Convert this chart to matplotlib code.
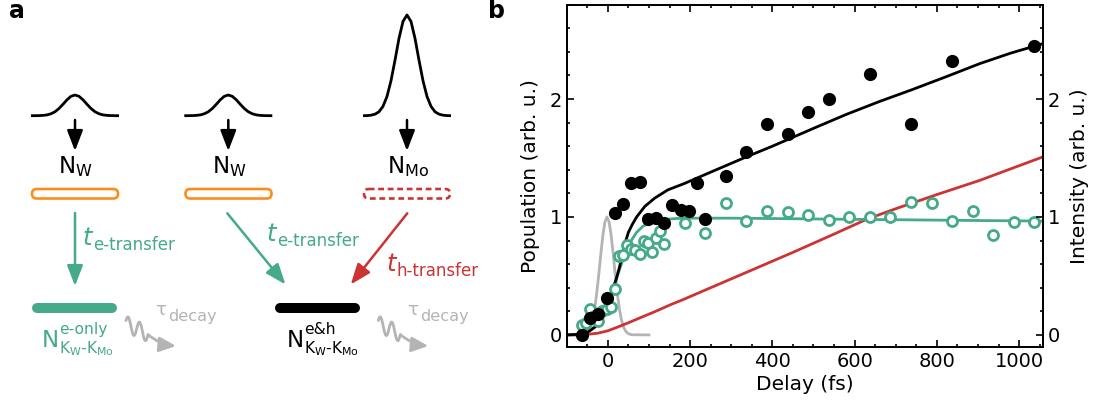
import numpy as np
import matplotlib
matplotlib.use("Agg")
import matplotlib.pyplot as plt
from matplotlib.patches import FancyBboxPatch, FancyArrowPatch
from matplotlib.ticker import MultipleLocator

GREEN = "#44aa88"
ORANGE = "#ff8c1a"
RED = "#cc3333"
GREY = "#b4b4b4"

# ---- panel b data ----
eh_delay = [-63, -44, -24, -3, 17, 37, 57, 77, 97, 117, 137, 157, 177, 197,
            217, 237, 287, 337, 387, 437, 487, 537, 637, 737, 837, 1037]
eh_pop = [0.0, 0.14, 0.18, 0.31, 1.03, 1.11, 1.29, 1.30, 0.98, 0.99, 0.95,
          1.10, 1.06, 1.05, 1.29, 0.98, 1.35, 1.55, 1.79, 1.70, 1.89, 2.00,
          2.21, 1.79, 2.32, 2.45]

eonly_delay = [-63, -53, -43, -33, -23, -13, -3, 7, 17, 27, 37, 47, 57, 67,
               77, 87, 97, 107, 117, 127, 137, 187, 237, 287, 337, 387, 437,
               487, 537, 587, 637, 687, 737, 787, 837, 887, 937, 987, 1037]
eonly_pop = [0.08, 0.10, 0.22, 0.16, 0.12, 0.20, 0.22, 0.24, 0.39, 0.67,
             0.68, 0.76, 0.73, 0.72, 0.69, 0.80, 0.78, 0.70, 0.82, 0.88,
             0.77, 0.95, 0.86, 1.12, 0.97, 1.05, 1.04, 1.02, 0.975, 1.00,
             1.00, 1.00, 1.13, 1.115, 0.97, 1.05, 0.85, 0.96, 0.96]

fit_eh_t = [-100, -70, -50, -30, -15, -3, 5, 12, 20, 28, 35, 42, 50, 60, 70,
            90, 114, 146, 187, 250, 337, 400, 499, 580, 661, 740, 823, 904,
            980, 1058]
fit_eh_n = [0.0, 0.005, 0.02, 0.07, 0.15, 0.25, 0.32, 0.39, 0.47, 0.57, 0.68,
            0.78, 0.87, 0.94, 1.0, 1.09, 1.16, 1.23, 1.285, 1.38, 1.51, 1.60,
            1.75, 1.87, 1.98, 2.08, 2.19, 2.30, 2.39, 2.47]

fit_e_t = [-100, -70, -50, -30, -15, -3, 5, 12, 20, 28, 36, 45, 57, 70, 85,
           100, 120, 140, 180, 300, 600, 900, 1058]
fit_e_n = [0.0, 0.005, 0.02, 0.07, 0.15, 0.24, 0.31, 0.38, 0.46, 0.55, 0.63,
           0.71, 0.80, 0.87, 0.92, 0.95, 0.97, 0.98, 0.99, 0.99, 0.98, 0.97,
           0.965]

fit_h_t = [-100, -70, -50, -25, 0, 25, 50, 75, 115, 155, 180, 250, 350, 450,
           550, 629, 700, 800, 904, 1058]
fit_h_n = [0.0, 0.0, 0.005, 0.014, 0.035, 0.068, 0.103, 0.14, 0.198, 0.26,
           0.295, 0.40, 0.55, 0.70, 0.855, 0.98, 1.07, 1.19, 1.31, 1.51]

pulse_t = [-100, -67, -62, -57, -52, -47, -42, -37, -32, -27, -22, -17, -12,
           -7, -2, 3, 8, 13, 18, 23, 28, 33, 38, 43, 48, 53, 58, 63, 100]
pulse_i = [0.0, 0.001, 0.002, 0.006, 0.015, 0.034, 0.069, 0.129, 0.222,
           0.352, 0.513, 0.687, 0.846, 0.959, 1.0, 0.959, 0.846, 0.687,
           0.513, 0.352, 0.222, 0.129, 0.069, 0.034, 0.015, 0.006, 0.002,
           0.001, 0.0]

# ---- panel a: pump pulse sketch profile ----
sketch_off = [-44, -40, -36, -32, -28, -24, -20, -16, -12, -8, -4, 0,
              4, 8, 12, 16, 20, 24, 28, 32, 36, 40, 44]
sketch_val = [0.0, 0.001, 0.005, 0.015, 0.039, 0.093, 0.191, 0.347, 0.551,
              0.768, 0.936, 1.0, 0.936, 0.768, 0.551, 0.347, 0.191, 0.093,
              0.039, 0.015, 0.005, 0.001, 0.0]
sketch_x = [75, 228.3, 407]
sketch_h = [20.7, 20.7, 100.7]

fig = plt.figure(figsize=(11.01, 4.11), dpi=100)

# panel a drawn in pixel coordinates
ax_a = fig.add_axes([0, 0, 1, 1])
ax_a.set_xlim(0, 1101)
ax_a.set_ylim(411, 0)
ax_a.axis("off")

base = 115.7
for cx, h in zip(sketch_x, sketch_h):
    ax_a.plot([cx + o for o in sketch_off], [base - h * v for v in sketch_val],
              color="k", lw=2, solid_capstyle="butt")


def arrow(p0, p1, color, lw=1.8, hl=1.25, hw=0.48):
    ax_a.add_patch(FancyArrowPatch(
        p0, p1, arrowstyle=f"-|>,head_length={hl},head_width={hw}",
        mutation_scale=10, color=color, lw=lw, shrinkA=0, shrinkB=0))


for cx in sketch_x:
    arrow((cx, 120), (cx, 151), "k")

n_kw = dict(fontsize=16.5, ha="center", va="baseline")
ax_a.text(75.3, 173.3, r"N$_\mathrm{W}$", **n_kw)
ax_a.text(229.7, 173.3, r"N$_\mathrm{W}$", **n_kw)
ax_a.text(408, 173.3, r"N$_\mathrm{Mo}$", **n_kw)

for x0, col, ls in [(32, ORANGE, "-"), (185.5, ORANGE, "-"), (364, RED, (0, (2.2, 1.4)))]:
    ax_a.add_patch(FancyBboxPatch((x0, 189), 86, 9.5,
                                  boxstyle="round,pad=0,rounding_size=4.7",
                                  fc="white", ec=col, lw=1.9, ls=ls))

arrow((75, 213), (75, 286), GREEN)
arrow((227.3, 213.3), (285.5, 284.5), GREEN)
arrow((407.3, 213.3), (350.7, 284.5), RED)


def rate(x, y, sub, color):
    ax_a.text(x, y, "t", fontsize=17.5, style="italic", color=color,
              ha="left", va="baseline")
    ax_a.text(x + 10, y + 5, sub, fontsize=12, color=color,
              ha="left", va="baseline")


rate(82.7, 245, "e-transfer", GREEN)
rate(266.7, 240.7, "e-transfer", GREEN)
rate(386.7, 270.7, "h-transfer", RED)

ax_a.plot([37, 112], [307.7, 307.7], color=GREEN, lw=7.2, solid_capstyle="round")
ax_a.plot([280, 355], [307.7, 307.7], color="k", lw=7.2, solid_capstyle="round")


def level_label(x, sup, color):
    ax_a.text(x, 346.7, "N", fontsize=16.5, color=color, ha="left", va="baseline")
    ax_a.text(x + 17.5, 334.3, sup, fontsize=11.2, color=color,
              ha="left", va="baseline")
    ax_a.text(x + 17.5, 353.5, r"K$_\mathrm{W}$-K$_\mathrm{Mo}$", fontsize=11.2,
              color=color, ha="left", va="baseline")


level_label(41.7, "e-only", GREEN)
level_label(287, "e&h", "k")

for dx in [0, 252.3]:
    s = np.linspace(0, 22, 80)
    wx = 126 + dx + s
    wy = 324 + 0.45 * s - 8 * np.sin(2 * np.pi * s / 11.5 + 0.45)
    ax_a.plot(wx, wy, color=GREY, lw=2, solid_capstyle="round")
    ax_a.add_patch(FancyArrowPatch(
        (wx[-1], wy[-1]), (176 + dx, 346),
        connectionstyle="arc3,rad=0.15",
        arrowstyle="-|>,head_length=1.0,head_width=0.45",
        mutation_scale=10, color=GREY, lw=2, shrinkA=0, shrinkB=0))
    ax_a.text(155 + dx, 315, "\u03c4", fontsize=13, color=GREY,
              ha="left", va="baseline")
    ax_a.text(168.3 + dx, 321, "decay", fontsize=11.6, color=GREY,
              ha="left", va="baseline")

fig.text(17 / 1101, 1 - 11 / 411, "a", fontsize=17, fontweight="bold",
         ha="center", va="center")
fig.text(497 / 1101, 1 - 11 / 411, "b", fontsize=17, fontweight="bold",
         ha="center", va="center")

# ---- panel b ----
ax = fig.add_axes([566.7 / 1101, 1 - 346.7 / 411, (1043 - 566.7) / 1101,
                   (346.7 - 4.7) / 411])
ax.plot(pulse_t, pulse_i, color=GREY, lw=2, zorder=1)
ax.plot(fit_h_t, fit_h_n, color=RED, lw=2, zorder=2)
ax.plot(fit_e_t, fit_e_n, color=GREEN, lw=2, zorder=3)
ax.plot(fit_eh_t, fit_eh_n, color="k", lw=2, zorder=4)
ax.plot(eonly_delay, eonly_pop, "o", ms=7.2, mfc="white", mec=GREEN, mew=2,
        zorder=5)
ax.plot(eh_delay, eh_pop, "o", ms=9.5, color="k", mew=0, zorder=6)

ax.set_xlim(-100, 1058)
ax.set_ylim(-0.1, 2.8)
ax.set_xticks([0, 200, 400, 600, 800, 1000])
ax.xaxis.set_minor_locator(MultipleLocator(50))
ax.set_yticks([0, 1, 2])
ax.yaxis.set_minor_locator(MultipleLocator(0.2))
ax.tick_params(which="both", direction="in", top=True, right=False,
               labelsize=14, width=1.2)
ax.tick_params(which="major", length=5)
ax.tick_params(which="minor", length=2.5)
ax.set_xlabel("Delay (fs)", fontsize=14.5, labelpad=3)
ax.set_ylabel("Population (arb. u.)", fontsize=14.5, labelpad=7)

ax2 = ax.twinx()
ax2.set_ylim(-0.1, 2.8)
ax2.set_yticks([0, 1, 2])
ax2.yaxis.set_minor_locator(MultipleLocator(0.2))
ax2.tick_params(which="both", direction="in", labelsize=14, width=1.2)
ax2.tick_params(which="major", length=5)
ax2.tick_params(which="minor", length=2.5)
ax2.set_ylabel("Intensity (arb. u.)", fontsize=14.5, labelpad=7)

for a in (ax, ax2):
    for sp in a.spines.values():
        sp.set_linewidth(1.3)

fig.savefig("out.png", dpi=100)
